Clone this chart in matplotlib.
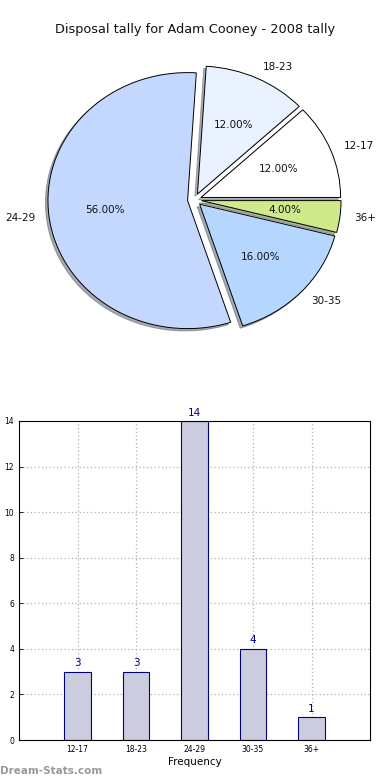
import matplotlib
matplotlib.use("Agg")
import matplotlib.pyplot as plt

categories = ["12-17", "18-23", "24-29", "30-35", "36+"]
counts = [3, 3, 14, 4, 1]
pie_colors = ["#ffffff", "#eaf1ff", "#c4d8ff", "#b4d6ff", "#ceea8a"]
yticks = [0, 2, 4, 6, 8, 10, 12, 14]

fig = plt.figure(figsize=(3.9, 7.8), dpi=100)

fig.text(0.5, 1 - 30 / 780, "Disposal tally for Adam Cooney - 2008 tally",
         ha="center", va="center", fontsize=9.3, color="#111111")

ax1 = fig.add_axes([13 / 390, 1 - 366.2 / 780, 363 / 390, 332.8 / 780])
ax1.pie(counts, labels=categories, colors=pie_colors, explode=[0.05] * len(counts),
        autopct="%1.2f%%", shadow=dict(ox=-0.013, oy=-0.013, shade=0.6), startangle=0,
        wedgeprops=dict(edgecolor="black", linewidth=0.7),
        textprops=dict(fontsize=7.5, color="#111111"))
ax1.set_xlim(-1.3, 1.3)
ax1.set_ylim(-1.3, 1.3)
ax1.set_aspect("auto")
ax1.axis("off")

ax2 = fig.add_axes([19 / 390, 1 - 740 / 780, 351 / 390, 319 / 780])
x = list(range(len(categories)))
ax2.bar(x, counts, width=0.45, color="#ccccdf", edgecolor="#000080", linewidth=0.8, zorder=2)
for xi, c in zip(x, counts):
    ax2.text(xi, c + 0.15, str(c), ha="center", va="bottom", fontsize=7.5, color="#000080")
ax2.set_xlim(-1, 5)
ax2.set_ylim(0, 14)
ax2.set_xticks(x)
ax2.set_xticklabels(categories, fontsize=5.5)
ax2.set_yticks(yticks)
ax2.set_yticklabels([str(v) for v in yticks], fontsize=5.5)
ax2.tick_params(direction="in", length=3, width=0.6)
ax2.grid(True, linestyle=(0, (1, 2)), color="#b0b0b0", linewidth=0.9, zorder=0)
ax2.set_axisbelow(True)
ax2.set_xlabel("Frequency", fontsize=7.5, labelpad=2)
ax2.set_ylabel("Disposal Tally", fontsize=7.5, labelpad=4)
for s in ax2.spines.values():
    s.set_linewidth(0.8)

fig.text(0.0, 1 - 771 / 780, "Dream-Stats.com", ha="left", va="center",
         fontsize=7.5, color="#999999", fontweight="bold")

fig.savefig("out.png", dpi=100)
